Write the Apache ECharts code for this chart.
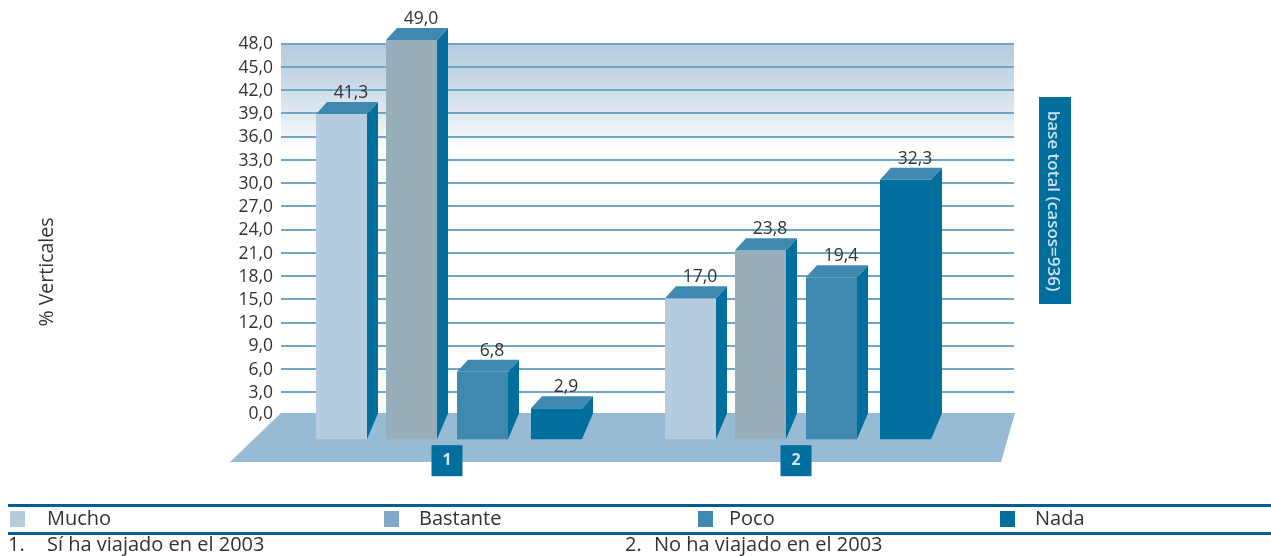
<!DOCTYPE html>
<html>
<head>
<meta charset="utf-8">
<style>html,body{margin:0;padding:0;background:#fff}#c{width:1271px;height:556px}</style>
<script src="https://cdn.jsdelivr.net/npm/echarts@6/dist/echarts.min.js"></script>
</head>
<body>
<div id="c"></div>
<script>
// Data
const groups = ['1', '2'];
const yTicks = ['0,0','3,0','6,0','9,0','12,0','15,0','18,0','21,0','24,0','27,0','30,0','33,0','36,0','39,0','42,0','45,0','48,0'];
const seriesNames = ['Mucho', 'Bastante', 'Poco', 'Nada'];
// Printed value labels
const labelsMucho = ['41,3', '17,0'];
const labelsBastante = ['49,0', '23,8'];
const labelsPoco = ['6,8', '19,4'];
const labelsNada = ['2,9', '32,3'];
// Bar heights as drawn in the reference, read against its axis
const heightsMucho = [38.9, 15.1];
const heightsBastante = [48.45, 21.3];
const heightsPoco = [5.6, 17.8];
const heightsNada = [0.9, 30.4];

const FONT = '"Open Sans", sans-serif';
const INK = '#333333';
const legendColors = ['#b4cbe0', '#7fa9c7', '#3f89b0', '#006f9e'];
const faceColors = ['#b4cbe0', '#99aebb', '#3f89b0', '#006f9e'];
const SIDE = '#006f9e', TOP = '#3f89b0';
const offsets = [-131, -61, 10, 84];
const BW = 51, DX = 11, DY = 12, DROP = 24;

function barRenderer(si, labels) {
  return function (params, api) {
    const cat = api.value(0);
    const p = api.coord([cat, api.value(1)]);
    const z = api.coord([cat, 0]);
    const x0 = p[0] + offsets[si], x1 = x0 + BW;
    const yt = p[1], yb = z[1] + DROP, yf = z[1] - 2;
    return {
      type: 'group',
      children: [
        { type: 'rect', shape: { x: x0, y: yt, width: BW, height: yb - yt }, style: { fill: faceColors[si] } },
        { type: 'polygon', shape: { points: [[x1, yt], [x1 + DX, yt - DY], [x1 + DX, Math.max(yf, yt - DY)], [x1, yb]] }, style: { fill: SIDE } },
        { type: 'polygon', shape: { points: [[x0, yt], [x0 + DX, yt - DY], [x1 + DX, yt - DY], [x1, yt]] }, style: { fill: TOP } },
        { type: 'text', style: { text: labels[cat], x: x0 + (BW + DX) / 2 + 4, y: yt - DY - 9, align: 'center', verticalAlign: 'middle', fill: INK, font: '17.5px ' + FONT } }
      ]
    };
  };
}
const heights = [heightsMucho, heightsBastante, heightsPoco, heightsNada];
const labels = [labelsMucho, labelsBastante, labelsPoco, labelsNada];
const legendLeft = [10, 384, 698, 1000];
const legendGap = [17, 15, 11, 15];

const chart = echarts.init(document.getElementById('c'), null, { renderer: 'canvas' });
chart.setOption({
  animation: false,
  backgroundColor: '#fff',
  grid: [
    { left: 281, width: 733, top: 43.5, height: 371.7, show: true, borderWidth: 0,
      backgroundColor: new echarts.graphic.LinearGradient(0, 0, 0, 1, [
        { offset: 0, color: '#b5cbdf' }, { offset: 0.1, color: '#c9d8e6' }, { offset: 0.2, color: '#e4ebf3' }, { offset: 0.29, color: '#ffffff' }, { offset: 1, color: '#ffffff' }
      ]) },
    { left: 272.5, width: 698, top: 43.5, height: 371.7 }
  ],
  xAxis: [
    { gridIndex: 0, type: 'category', data: groups, show: false },
    { gridIndex: 1, type: 'category', data: groups, z: 4, axisLine: { show: false }, axisTick: { show: false },
      axisLabel: { margin: 30, color: '#d5e4f0', fontFamily: FONT, fontWeight: 'bold', fontSize: 16,
        backgroundColor: '#006f9e', width: 31, height: 31, lineHeight: 31, align: 'center' } }
  ],
  yAxis: [
    { gridIndex: 0, type: 'value', min: 0, max: 48, interval: 3,
      axisLine: { show: false }, axisTick: { show: false },
      splitLine: { show: true, lineStyle: { color: '#72a6c6', width: 2 } },
      axisLabel: { margin: 8, color: INK, fontFamily: FONT, fontSize: 17.5, padding: [2, 0, 0, 0],
        formatter: function (v) { const t = yTicks[Math.round(v / 3)]; return v === 0 ? '{z|' + t + '}' : t; },
        rich: { z: { color: INK, fontFamily: FONT, fontSize: 17.5, padding: [0, 0, 4, 0] } } } },
    { gridIndex: 1, type: 'value', min: 0, max: 48, interval: 3, show: false, splitLine: { show: false } }
  ],
  legend: seriesNames.map(function (n, i) {
    return { data: [n], left: legendLeft[i], top: 509, orient: 'horizontal', icon: 'rect', itemWidth: 15, itemHeight: 16,
      selectedMode: false, padding: 0, textStyle: { color: INK, fontFamily: FONT, fontSize: 20, padding: [0, 0, 0, legendGap[i]] } };
  }),
  series: seriesNames.map(function (n, i) {
    return { name: n, type: 'custom', xAxisIndex: 1, yAxisIndex: 1, z: 3,
      itemStyle: { color: legendColors[i] },
      renderItem: barRenderer(i, labels[i]),
      data: heights[i].map(function (h, c) { return [c, h]; }) };
  }),
  graphic: [
    { type: 'polygon', z: 1, silent: true, shape: { points: [[281, 413], [1015, 413], [1001, 462], [230, 462]] }, style: { fill: '#97bad5' } },
    { type: 'rect', z: 1, silent: true, shape: { x: 1039, y: 97, width: 32, height: 207 }, style: { fill: '#006f9e' } },
    { type: 'text', z: 2, silent: true, x: 1053, y: 201, rotation: -Math.PI / 2,
      style: { text: 'base total (casos=936)', align: 'center', verticalAlign: 'middle', fill: '#cfe0ee', font: '600 17px ' + FONT } },
    { type: 'text', z: 2, silent: true, x: 47, y: 272, rotation: Math.PI / 2,
      style: { text: '% Verticales', align: 'center', verticalAlign: 'middle', fill: INK, font: '19.5px ' + FONT } },
    { type: 'rect', z: 1, silent: true, shape: { x: 8, y: 504, width: 1263, height: 3 }, style: { fill: '#005f8c' } },
    { type: 'rect', z: 1, silent: true, shape: { x: 8, y: 532, width: 1263, height: 3 }, style: { fill: '#005f8c' } },
    { type: 'text', z: 2, silent: true, x: 8, y: 545, style: { text: '1.', verticalAlign: 'middle', fill: INK, font: '20px ' + FONT } },
    { type: 'text', z: 2, silent: true, x: 47, y: 545, style: { text: 'Sí ha viajado en el 2003', verticalAlign: 'middle', fill: INK, font: '20px ' + FONT } },
    { type: 'text', z: 2, silent: true, x: 625, y: 545, style: { text: '2.', verticalAlign: 'middle', fill: INK, font: '20px ' + FONT } },
    { type: 'text', z: 2, silent: true, x: 654, y: 545, style: { text: 'No ha viajado en el 2003', verticalAlign: 'middle', fill: INK, font: '20px ' + FONT } }
  ]
});
</script>
</body>
</html>
